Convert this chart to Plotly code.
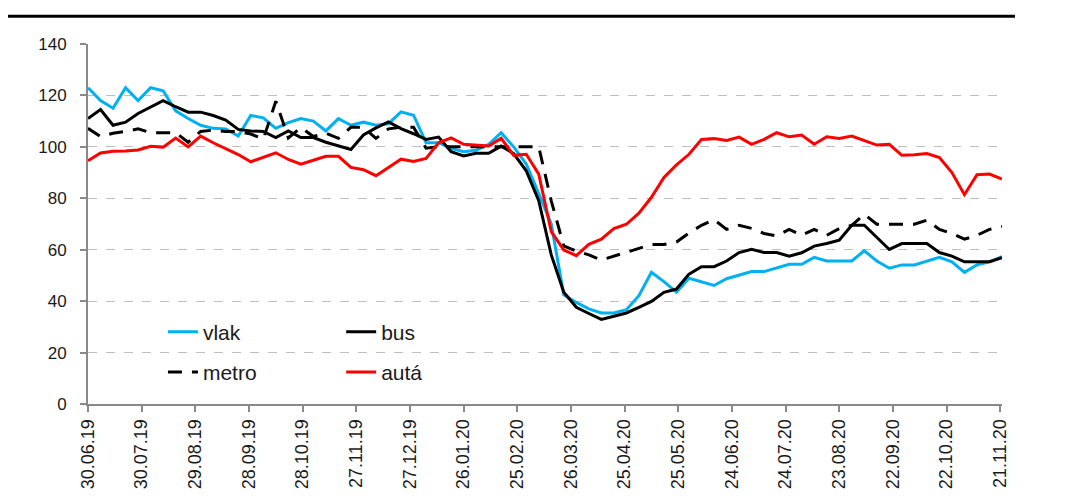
import pandas as pd
import plotly.graph_objects as go

# weekly observations
weeks = pd.date_range("2019-06-30", periods=74, freq="7D")

vlak = [123, 118, 115, 123, 118, 123, 121.8, 114, 111, 108.4, 107.2, 107, 104.2, 112.2,
        111.3, 107.2, 109.4, 111, 110, 106.2, 111, 108.4, 109.6, 108.4, 109, 113.6, 112.3,
        101.6, 101.6, 99.4, 98.1, 98.7, 101, 105.5, 100, 93.3, 81.8, 70, 42.5, 39.5, 37,
        35.4, 35.4, 36.7, 42.1, 51.2, 47.6, 43.5, 48.9, 47.6, 46.1, 48.7, 50.2, 51.5, 51.5,
        53, 54.3, 54.3, 57, 55.6, 55.6, 55.6, 59.6, 55.6, 52.8, 54.1, 54.1, 55.6, 57, 55.3,
        51.2, 54.1, 55.3, 57.3]

bus = [111, 114.5, 108.4, 109.6, 113, 115.6, 118, 115.6, 113.5, 113.5, 112.2, 110.4, 106.8,
       106.2, 106, 103.6, 106.2, 103.6, 103.6, 101.8, 100.4, 99, 104.6, 107.4, 109.7, 107.1,
       105.1, 102.9, 103.8, 98.1, 96.5, 97.5, 97.5, 100.3, 97.4, 90.7, 79.1, 58, 43.5, 37.6,
       35.2, 32.9, 34.1, 35.4, 37.6, 39.9, 43.4, 44.7, 50.5, 53.4, 53.4, 55.6, 58.9, 60.2,
       58.9, 58.9, 57.5, 58.8, 61.4, 62.4, 63.7, 69.5, 69.5, 64.7, 60.1, 62.4, 62.4, 62.4,
       58.9, 57.5, 55.3, 55.3, 55.3, 56.9]

metro = [107.2, 104, 105.3, 106, 107, 105.5, 105.5, 105.5, 101.8, 106, 106.5, 106, 106, 105,
         103, 117.7, 103.5, 107.5, 104, 105.3, 103.3, 107.6, 107.6, 103.3, 107, 107.6, 107.6,
         99.5, 100, 100, 100, 100, 100, 100, 100, 100, 100, 79, 61.5, 59.5, 58, 56, 57.5, 59,
         60.5, 62, 62, 63, 66.5, 69.5, 71.7, 67.9, 69.5, 68.3, 66.3, 65.4, 67.9, 65.6, 67.9,
         65.6, 68.2, 69.5, 73.8, 69.9, 69.9, 69.9, 69.9, 71.5, 67.9, 66.3, 64.1, 65.6, 67.9, 69]

auta = [94.6, 97.6, 98.3, 98.4, 98.8, 100.2, 99.9, 103.4, 100, 104.2, 101.6, 99.3, 97, 94.2,
        95.9, 97.7, 95.1, 93.3, 94.8, 96.3, 96.3, 92, 91.1, 88.8, 92, 95.2, 94.3, 95.5, 101.6,
        103.5, 101, 100.6, 100.3, 103.3, 96.7, 97.1, 89.4, 67, 59.9, 57.7, 62.1, 64.1, 68.2,
        69.9, 74.2, 80.4, 88.1, 93, 97.1, 102.9, 103.2, 102.5, 103.8, 101, 102.9, 105.5, 103.9,
        104.6, 101, 103.9, 103.3, 104.2, 102.3, 100.7, 101, 96.7, 96.9, 97.4, 95.8, 90, 81.4,
        89.2, 89.4, 87.5]

tick_labels = ["30.06.19", "30.07.19", "29.08.19", "28.09.19", "28.10.19", "27.11.19",
               "27.12.19", "26.01.20", "25.02.20", "26.03.20", "25.04.20", "25.05.20",
               "24.06.20", "24.07.20", "23.08.20", "22.09.20", "22.10.20", "21.11.20"]
tick_vals = [pd.to_datetime(t, format="%d.%m.%y") for t in tick_labels]

FONT = "Liberation Sans, Arial, sans-serif"
AXIS_COLOR = "#898989"
TEXT = "#1a1a1a"

fig = go.Figure()
fig.add_trace(go.Scatter(x=weeks, y=vlak, name="vlak", mode="lines",
                         line=dict(color="#00B0F0", width=3), legend="legend", legendgroup="a"))
fig.add_trace(go.Scatter(x=weeks, y=metro, name="metro", mode="lines",
                         line=dict(color="#000000", width=3, dash="14px,10px"),
                         legend="legend", legendgroup="b"))
fig.add_trace(go.Scatter(x=weeks, y=bus, name="bus", mode="lines",
                         line=dict(color="#000000", width=3), legend="legend2", legendgroup="c"))
fig.add_trace(go.Scatter(x=weeks, y=auta, name="autá", mode="lines",
                         line=dict(color="#FF0000", width=3), legend="legend2", legendgroup="d"))

legend_common = dict(font=dict(family=FONT, size=21, color=TEXT), bgcolor="rgba(0,0,0,0)",
                     orientation="v", tracegroupgap=10, xanchor="left", yanchor="top",
                     itemwidth=30)

# page body has an 8px margin, so the figure is 8px smaller than the window
fig.update_layout(
    width=1058, height=493,
    margin=dict(l=80, r=64, t=36, b=94),
    paper_bgcolor="white", plot_bgcolor="white",
    font=dict(family=FONT, size=17, color=TEXT),
    showlegend=True,
    legend=dict(x=0.082, y=0.257, **legend_common),
    legend2=dict(x=0.277, y=0.257, **legend_common),
    xaxis=dict(
        type="date",
        range=[pd.Timestamp("2019-06-30"), pd.Timestamp("2020-11-22")],
        tickmode="array", tickvals=tick_vals, ticktext=tick_labels,
        tickangle=-90, ticks="outside", ticklen=6, tickcolor=AXIS_COLOR, tickwidth=1.5,
        showline=True, linecolor=AXIS_COLOR, linewidth=2,
        showgrid=False, zeroline=False,
        tickfont=dict(family=FONT, size=18, color=TEXT),
    ),
    yaxis=dict(
        range=[0, 140], tickmode="linear", tick0=0, dtick=20,
        ticks="outside", ticklen=6, tickcolor=AXIS_COLOR, tickwidth=1.5,
        showline=True, linecolor=AXIS_COLOR, linewidth=2,
        showgrid=True, gridcolor="#BFBFBF", gridwidth=1, griddash="dash",
        zeroline=False, ticklabelstandoff=10,
        tickfont=dict(family=FONT, size=17, color=TEXT),
    ),
    shapes=[dict(type="line", xref="paper", yref="paper",
                 x0=-0.0963, x1=1.0142, y0=1.077, y1=1.077,
                 line=dict(color="#000000", width=3))],
)

fig.write_html("out.html")
